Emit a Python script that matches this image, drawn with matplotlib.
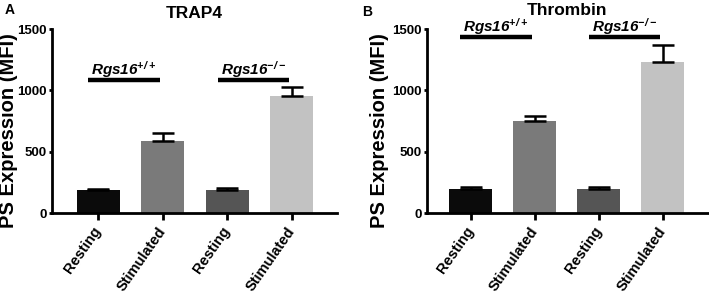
import matplotlib
matplotlib.use("Agg")
import matplotlib.pyplot as plt

plt.rcParams['font.family'] = ['Liberation Sans', 'DejaVu Sans']
plt.rcParams['font.weight'] = 'bold'
plt.rcParams['mathtext.fontset'] = 'custom'
plt.rcParams['mathtext.rm'] = 'Liberation Sans:italic:bold'
plt.rcParams['mathtext.it'] = 'Liberation Sans:italic:bold'

# dados
categorias = ["Resting", "Stimulated", "Resting", "Stimulated"]
cores = ["#0b0b0b", "#7a7a7a", "#555555", "#c2c2c2"]

trap4_media = [185, 585, 190, 955]
trap4_erro = [12, 70, 12, 72]

thrombin_media = [196, 752, 195, 1234]
thrombin_erro = [16, 42, 18, 136]

grupos = [r"$Rgs16^{+/+}$", r"$Rgs16^{-/-}$"]
grupo_x = [(-0.16, 0.95), (1.85, 2.96)]

fig = plt.figure(figsize=(7.09, 2.96), dpi=100)
ax_a = fig.add_axes([0.0733, 0.280, 0.402, 0.622])
ax_b = fig.add_axes([0.602, 0.280, 0.396, 0.622])


def painel(ax, titulo, medias, erros, y_linha, y_texto, x_esq, lab_x, pad_titulo):
    pos = list(range(len(medias)))
    ax.bar(pos, medias, width=0.67, color=cores, zorder=2)
    ax.errorbar(pos, medias, yerr=[[0] * len(erros), erros], fmt='none',
                ecolor='black', elinewidth=1.8, capsize=8, capthick=1.8, zorder=3)
    for g, (x0, x1) in zip(grupos, grupo_x):
        ax.plot([x0, x1], [y_linha, y_linha], color='black', lw=3.2,
                solid_capstyle='butt', clip_on=False)
        ax.text((x0 + x1) / 2, y_texto, g, ha='center', va='center',
                fontsize=11, clip_on=False)
    ax.set_xlim(x_esq, 3.7)
    ax.set_ylim(0, 1500)
    ax.set_yticks([0, 500, 1000, 1500])
    ax.set_xticks(pos)
    ax.set_xticklabels(categorias, rotation=55, ha='right', va='center',
                       rotation_mode='anchor', fontsize=10.5, fontweight='bold')
    for lab in ax.get_yticklabels():
        lab.set_fontweight('bold')
        lab.set_fontsize(9.5)
    ax.spines['top'].set_visible(False)
    ax.spines['right'].set_visible(False)
    ax.spines['left'].set_linewidth(2)
    ax.spines['bottom'].set_linewidth(2)
    ax.tick_params(axis='y', width=2, length=2.5, pad=1)
    ax.tick_params(axis='x', width=2, length=5, pad=6)
    ax.set_ylabel("PS Expression (MFI)", fontsize=14.5, fontweight='bold')
    ax.yaxis.set_label_coords(lab_x, 0.448)
    ax.set_title(titulo, fontsize=12.5, fontweight='bold', pad=pad_titulo)


painel(ax_a, "TRAP4", trap4_media, trap4_erro, 1084, 1166, -0.72, -0.12, 8)
painel(ax_b, "Thrombin", thrombin_media, thrombin_erro, 1435, 1524, -0.685, -0.135, 10)

fig.text(0.006, 0.965, "A", fontsize=10, fontweight='bold', va='center')
fig.text(0.511, 0.96, "B", fontsize=10, fontweight='bold', va='center')

fig.savefig("out.png", dpi=100)
